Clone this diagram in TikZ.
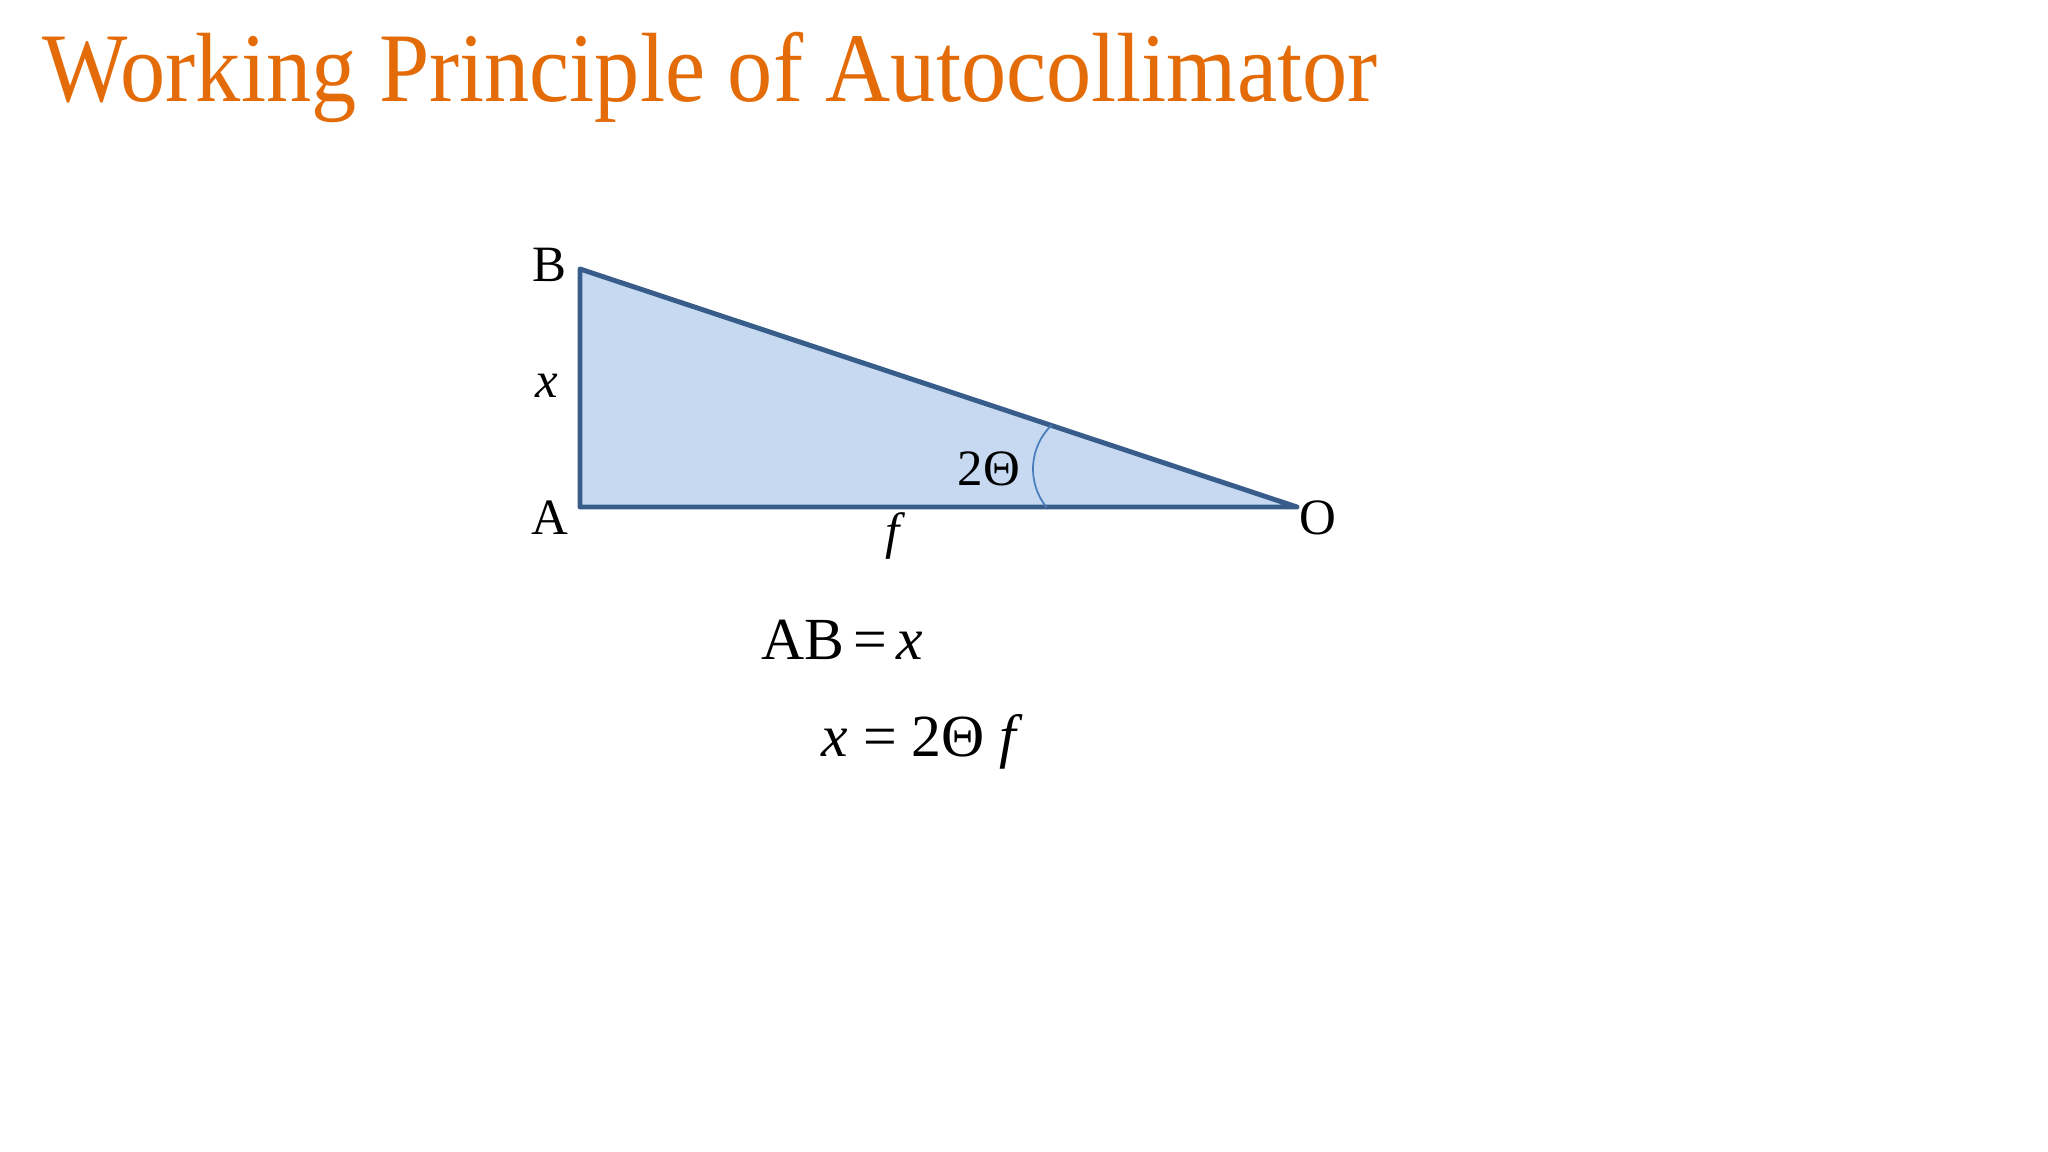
\documentclass[tikz,border=0pt]{standalone}
\usepackage{fontspec}
\setmainfont{Liberation Serif}
\usepackage{tikz}
\usetikzlibrary{calc}
\usetikzlibrary{positioning}
\usepackage{color}
\definecolor{titleorange}{RGB}{227, 108, 9}
\definecolor{edgeblue}{RGB}{56, 93, 138}
\definecolor{fillblue}{RGB}{198, 217, 241}
\definecolor{arcblue}{RGB}{74, 126, 187}

\begin{document}
\begin{tikzpicture}
            % Frame to fix the page size
            \useasboundingbox (0.00, 0.00) rectangle (20.48, 11.52);
            % Title
            \node[color=titleorange, anchor=base west, inner sep=0pt, xscale=0.918,
                  font=\fontsize{28}{32}\selectfont] (title) at (0.42, 10.50) {Working Principle of Autocollimator};
            % Corners
            \coordinate (B) at ( 5.80, 8.83);
            \coordinate (A) at ( 5.80, 6.45);
            \coordinate (O) at (12.97, 6.45);
            \coordinate (arcctr) at (10.94, 6.83);
            % Triangle
            \filldraw[color=edgeblue, fill=fillblue, line width=1.4pt, line join=round] (B) -- (A) -- (O) -- cycle;
            % Angle mark
            \draw[color=arcblue, line width=0.5pt] ($(arcctr)+(219:0.61)$) arc (219:134:0.61);
            % Labels
            \node[anchor=base, font=\fontsize{14.5}{17}\selectfont] (labB) at ( 5.49, 8.70) {B};
            \node[anchor=base, font=\fontsize{14.5}{17}\selectfont] (labA) at ( 5.50, 6.17) {A};
            \node[anchor=base, font=\fontsize{14.5}{17}\selectfont] (labO) at (13.18, 6.17) {O};
            \node[anchor=base, font=\fontsize{14.5}{17}\selectfont] (labx) at ( 5.47, 7.54) {\textit{x}};
            \node[anchor=base, font=\fontsize{14.5}{17}\selectfont] (labf) at ( 8.96, 6.03) {\textit{f}};
            \node[anchor=base, font=\fontsize{14.5}{17}\selectfont] (angle) at ( 9.89, 6.66) {2Θ};
            % Relations
            \node[anchor=base west, inner sep=0pt, font=\fontsize{17}{20}\selectfont] (eqAB) at ( 7.61, 4.92) {AB\hspace{0.15em}=\hspace{0.15em}\textit{x}};
            \node[anchor=base west, inner sep=0pt, font=\fontsize{17}{20}\selectfont] (eqx)  at ( 8.21, 3.95) {\textit{x} = 2Θ \textit{f}};
        \end{tikzpicture}
\end{document}
